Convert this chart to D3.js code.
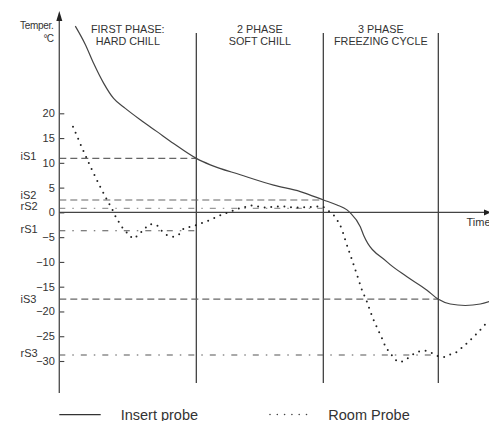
<!DOCTYPE html>
<html>
<head>
<meta charset="utf-8">
<script src="https://cdn.jsdelivr.net/npm/d3@7"></script>
<style>
  html, body { margin: 0; padding: 0; background: #fff; }
  svg { display: block; }
  text { font-family: "Liberation Sans", Arial, Helvetica, sans-serif; fill: #333; }
</style>
</head>
<body>
<svg id="chart" width="489" height="421"></svg>
<script>
// ---------- data ----------
const yTicks = [20, 15, 10, 5, 0, -5, -10, -15, -20, -25, -30];
const phaseBounds = [137, 264, 379];            // time at the end of each phase
const phaseTitles = [["FIRST PHASE:", "HARD CHILL"], ["2 PHASE", "SOFT CHILL"], ["3 PHASE", "FREEZING CYCLE"]];

const thresholdLabels = ["iS1", "iS2", "rS2", "rS1", "iS3", "rS3"];
const thresholdValues = [10.9, 2.5, 0.8, -3.7, -17.5, -28.8];
const thresholdPhase  = [0, 1, 1, 0, 2, 2];     // phase boundary where the set-point line ends

const insertTime = [16, 26, 34.3, 44.3, 54.3, 66, 81, 97.7, 114.3, 137, 151, 181, 214.3, 241, 264.3, 277.7, 287.7, 291, 301, 304.3, 327.7, 347.7, 367.7, 378.7, 391, 406, 421, 430];
const insertTemp = [37.6, 33.9, 30.1, 26.1, 23.0, 21.0, 18.7, 16.3, 13.9, 10.9, 9.6, 7.6, 5.5, 4.2, 2.5, 1.5, 0.5, -0.1, -2.9, -4.6, -10.0, -13.0, -15.7, -17.5, -18.5, -18.8, -18.5, -18.0];

const roomTime = [13.7, 31, 40.3, 47, 53.7, 56.7, 60.3, 64.3, 69.3, 74.3, 79.3, 84.3, 90, 96.7, 101.7, 107.7, 113.7, 120, 124.3, 131, 137.7, 144.3, 151, 157.7, 164.3, 171, 177.7, 184.3, 191, 206, 221, 236, 251, 262.7, 267.7, 272.7, 277.7, 282.7, 286, 289.3, 292.7, 296, 299.3, 302.7, 307, 311, 314.3, 318.3, 322.7, 326, 331, 335, 340, 346.7, 352.7, 359.3, 365.3, 371.7, 378.3, 385, 391.7, 398.3, 403.7, 409.3, 414.3, 419.3, 423.7, 428.3];
const roomTemp = [17.3, 9.3, 5.4, 2.8, 0.3, -1.0, -2.2, -3.4, -4.4, -5.3, -4.4, -3.6, -2.4, -2.5, -3.6, -4.6, -4.9, -4.4, -3.3, -2.9, -2.5, -2.0, -1.5, -0.9, -0.3, 0.1, 0.7, 1.0, 1.4, 1.0, 1.2, 1.0, 1.1, 1.2, 0.5, -0.2, -1.5, -3.5, -5.6, -7.6, -9.6, -11.6, -13.6, -15.7, -17.7, -20.0, -21.7, -23.5, -25.4, -27.0, -28.4, -29.5, -30.2, -29.7, -28.8, -28.1, -27.9, -28.3, -29.0, -29.2, -28.6, -28.1, -27.1, -26.1, -25.1, -24.1, -23.1, -22.1];

const legendLabels = ["Insert probe", "Room Probe"];
const yTitle = ["Temper.", "°C"];
const xTitle = "Time";

// ---------- drawing ----------
const svg = d3.select("#chart");
const x = d3.scaleLinear().domain([0, 430]).range([59.3, 489.3]);
const y = d3.scaleLinear().domain([20, -30]).range([113.3, 361]);

const ink = "#333";

// phase vertical lines
svg.append("g").selectAll("line").data(phaseBounds).join("line")
  .attr("x1", d => x(d)).attr("x2", d => x(d))
  .attr("y1", 33).attr("y2", 383)
  .attr("stroke", ink).attr("stroke-width", 1.2);

// phase titles
const pStarts = [0].concat(phaseBounds.slice(0, -1));
phaseTitles.forEach((lines, i) => {
  const cx = x((pStarts[i] + phaseBounds[i]) / 2);
  lines.forEach((t, j) => {
    svg.append("text").attr("x", cx).attr("y", 33 + j * 12)
      .attr("text-anchor", "middle").attr("font-size", 10.8).text(t);
  });
});

// threshold lines
const dashFor = lbl => lbl[0] === "i" ? "7,4" : "6,7,1.5,7";
const colFor = lbl => lbl === "rS2" ? "#999" : (lbl[0] === "i" ? "#666" : "#555");
thresholdValues.forEach((v, i) => {
  const lbl = thresholdLabels[i];
  svg.append("line")
    .attr("x1", x(0)).attr("x2", x(phaseBounds[thresholdPhase[i]]))
    .attr("y1", y(v)).attr("y2", y(v))
    .attr("stroke", colFor(lbl)).attr("stroke-width", 1.1)
    .attr("stroke-dasharray", dashFor(lbl));
  const shift = lbl === "iS2" ? -5 : (lbl === "iS3" ? 0 : -2);
  svg.append("text").attr("x", 20.5).attr("y", y(v) + shift)
    .attr("dominant-baseline", "central")
    .attr("font-size", 11).text(lbl);
});

// y axis ticks
const yAxis = d3.axisLeft(y).tickValues(yTicks).tickSizeInner(-5).tickSizeOuter(0).tickPadding(4.5);
const gy = svg.append("g").attr("transform", `translate(${x(0)},0)`).call(yAxis);
gy.select(".domain").remove();
gy.selectAll(".tick line").attr("stroke", "#444").attr("stroke-width", 1.1);
gy.selectAll(".tick text").attr("font-size", 11).attr("fill", "#333")
  .attr("font-family", "Liberation Sans, Arial, sans-serif");

// y axis line + arrow
svg.append("line").attr("x1", x(0)).attr("x2", x(0)).attr("y1", 18).attr("y2", 393)
  .attr("stroke", "#555").attr("stroke-width", 1.4);
svg.append("path")
  .attr("d", `M${x(0)},11 L${x(0) - 3},21 L${x(0) + 3},21 Z`).attr("fill", "#222");

// x axis line + arrow
svg.append("line").attr("x1", x(0)).attr("x2", 486).attr("y1", y(0)).attr("y2", y(0))
  .attr("stroke", "#444").attr("stroke-width", 1.4);
svg.append("path")
  .attr("d", `M491,${y(0)} L484,${y(0) - 3} L484,${y(0) + 3} Z`).attr("fill", "#222");

svg.append("text").attr("x", 466.5).attr("y", y(0) + 14).attr("font-size", 11).text(xTitle);

// y title
svg.append("text").attr("x", 53.5).attr("y", 28.5).attr("text-anchor", "end")
  .attr("font-size", 10).attr("letter-spacing", -0.3).text(yTitle[0]);
svg.append("text").attr("x", 53.5).attr("y", 41.5).attr("text-anchor", "end")
  .attr("font-size", 10).attr("letter-spacing", -0.6).text(yTitle[1]);

// insert probe (solid)
const insertData = insertTime.map((t, i) => [t, insertTemp[i]]);
const line = d3.line().x(d => x(d[0])).y(d => y(d[1])).curve(d3.curveMonotoneX);
svg.append("path").datum(insertData).attr("d", line)
  .attr("fill", "none").attr("stroke", "#444").attr("stroke-width", 1.2);

// room probe (dotted)
const roomData = roomTime.map((t, i) => [t, roomTemp[i]]);
svg.append("path").datum(roomData).attr("d", line)
  .attr("fill", "none").attr("stroke", "#222").attr("stroke-width", 2)
  .attr("stroke-linecap", "round").attr("stroke-dasharray", "0,6.6");

// legend
svg.append("line").attr("x1", 59.3).attr("x2", 100.7).attr("y1", 414.7).attr("y2", 414.7)
  .attr("stroke", "#333").attr("stroke-width", 1.2);
svg.append("text").attr("x", 120.7).attr("y", 419.6).attr("font-size", 14.5).text(legendLabels[0]);
svg.append("line").attr("x1", 270).attr("x2", 307).attr("y1", 414.5).attr("y2", 414.5)
  .attr("stroke", "#444").attr("stroke-width", 1.6)
  .attr("stroke-linecap", "round").attr("stroke-dasharray", "0,7.3");
svg.append("text").attr("x", 328.3).attr("y", 419.6).attr("font-size", 14.5).text(legendLabels[1]);
</script>
</body>
</html>
